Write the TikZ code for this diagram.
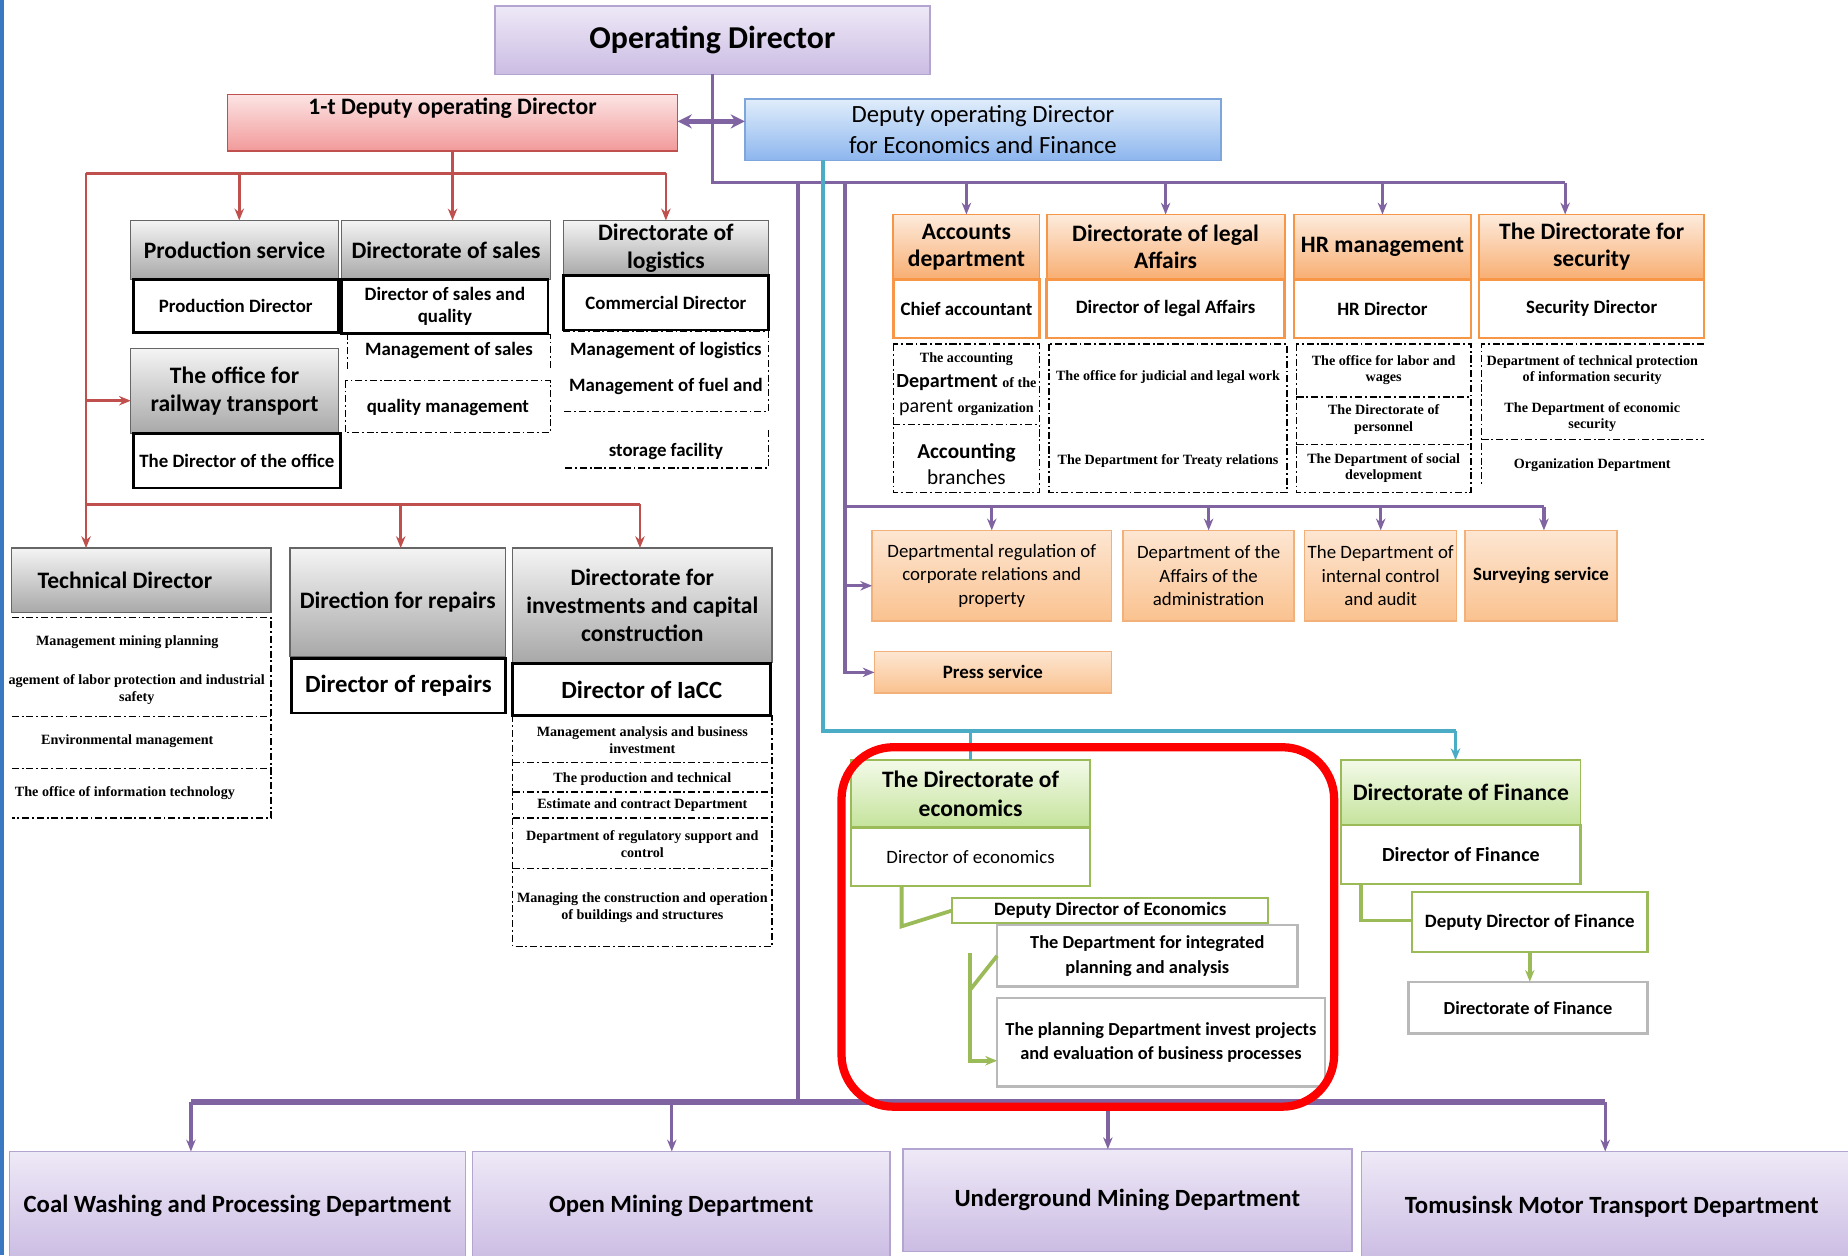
\documentclass[tikz,border=0pt]{standalone}
\usepackage{fontspec}
\setmainfont{Carlito}
\newfontfamily\srf{Liberation Serif}
\usetikzlibrary{arrows.meta}
\definecolor{pur}{HTML}{8064A2}
\definecolor{teal2}{HTML}{4BACC6}
\definecolor{redl}{HTML}{C0504D}
\definecolor{grn}{HTML}{9BBB59}
\definecolor{lavtop}{HTML}{EEE9F7}
\definecolor{lavbot}{HTML}{CBBCE3}
\definecolor{lavbd}{HTML}{B3A5D0}
\definecolor{pinktop}{HTML}{FCE4E4}
\definecolor{pinkbot}{HTML}{F29A9A}
\definecolor{bluetop}{HTML}{E0EDFB}
\definecolor{bluebot}{HTML}{8DB6EE}
\definecolor{bluebd}{HTML}{7FA6DA}
\definecolor{graytop}{HTML}{F4F4F4}
\definecolor{graybot}{HTML}{A8A8A8}
\definecolor{ortop}{HTML}{FDEBDC}
\definecolor{orbot}{HTML}{F8AE72}
\definecolor{orbd}{HTML}{F79646}
\definecolor{or2top}{HTML}{FDE6D2}
\definecolor{or2bot}{HTML}{FAC28F}
\definecolor{or2bd}{HTML}{F2B07A}
\definecolor{grtop}{HTML}{F3FAE8}
\definecolor{grbot}{HTML}{C5E39C}
\definecolor{slide}{HTML}{3A78C2}
\newcommand\setfz[2]{\fontsize{#1}{#2}\selectfont}
\newcommand\bx[7]{\node[#6,minimum width={(#4-#2)*0.5pt},minimum height={(#5-#3)*0.5pt}] (#1) at ({(#2+#4)/2},{(#3+#5)/2}) {#7};}
\begin{document}
\begin{tikzpicture}[x=0.5pt,y=-0.5pt,
 bbase/.style={align=center,inner sep=1pt,outer sep=0pt},
 lav/.style={bbase,draw=lavbd,line width=0.6pt,top color=lavtop,bottom color=lavbot},
 pnk/.style={bbase,draw=redl,line width=0.6pt,top color=pinktop,bottom color=pinkbot},
 blu/.style={bbase,draw=bluebd,line width=0.6pt,top color=bluetop,bottom color=bluebot},
 gryhd/.style={bbase,draw=gray!80!black,line width=0.5pt,top color=graytop,bottom color=graybot,font=\bfseries\setfz{10}{12}},
 wbx/.style={bbase,draw=black,line width=1.2pt,fill=white,font=\bfseries\setfz{8}{9.5}},
 wbig/.style={wbx,font=\bfseries\setfz{10.5}{12}},
 orhd/.style={bbase,draw=orbd,line width=0.8pt,top color=ortop,bottom color=orbot,font=\bfseries\setfz{10}{11.5}},
 orw/.style={bbase,draw=orbd,line width=1pt,fill=white,font=\bfseries\setfz{8}{9.5}},
 or2/.style={bbase,draw=or2bd,line width=0.6pt,top color=or2top,bottom color=or2bot,font=\setfz{8}{10}},
 grhd/.style={bbase,draw=grn,line width=0.8pt,top color=grtop,bottom color=grbot,font=\bfseries\setfz{10}{12}},
 grw/.style={bbase,draw=grn,line width=1pt,fill=white,font=\setfz{8}{9.5}},
 gyw/.style={bbase,draw=gray!55,line width=1pt,fill=white,font=\bfseries\setfz{7.8}{10.5}},
 ltxt/.style={align=center,inner sep=0pt,font=\bfseries\setfz{8}{9.5}},
 stxt/.style={align=center,inner sep=0pt,font=\srf\bfseries\setfz{6}{7}},
 dsh/.style={line width=0.6pt,dash pattern=on 3pt off 1.2pt on 0.8pt off 1.2pt},
 pline/.style={draw=pur,line width=1.4pt},
 parrow/.style={pline,-{Stealth[length=5pt,width=4pt]}},
 rline/.style={draw=redl,line width=1.1pt},
 rarrow/.style={rline,-{Stealth[length=5pt,width=4pt]}},
 tline/.style={draw=teal2,line width=1.6pt},
 tarrow/.style={tline,-{Stealth[length=5pt,width=4pt]}},
 gline/.style={draw=grn,line width=1.6pt},
 garrow/.style={gline,-{Stealth[length=5pt,width=4pt]}}]
\clip (0,0) rectangle (1568,1065);
\fill[white] (0,0) rectangle (1568,1065);
\fill[slide] (0,0) rectangle (3,1065);

% ---------- top
\bx{od}{420}{5}{789}{63}{lav,font=\bfseries\setfz{13.5}{15}}{Operating Director}
\bx{dep1}{193}{80}{575}{128}{pnk}{}
\node[font=\bfseries\setfz{10}{12}] (dep1t) at (384,92) {1-t Deputy operating Director};
\bx{depe}{632}{84}{1036}{136}{blu,font=\setfz{10.5}{13}}{Deputy operating Director\\for Economics and Finance}

% ---------- grey section
\bx{ps}{111}{187}{287}{237}{gryhd}{Production service}
\bx{ds}{290}{187}{467}{237}{gryhd}{Directorate of sales}
\bx{dl}{478}{187}{652}{234}{gryhd}{Directorate of\\logistics}
\bx{pd}{113}{237}{287}{282}{wbx}{Production Director}
\bx{dsq}{290}{237}{465}{283}{wbx}{Director of sales and\\quality}
\bx{cd}{478}{234}{652}{280}{wbx}{Commercial Director}
\bx{ort}{111}{296}{287}{368}{gryhd}{The office for\\railway transport}
\bx{dto}{113}{368}{289}{414}{wbx}{The Director of the office}

\draw[dsh] (295,313) -- (295,284) -- (467,284) -- (467,313);
\node[ltxt] (ms) at (381,297) {Management of sales};
\draw[dsh] (293,323) rectangle (467,367);
\node[ltxt] (qm) at (380,346) {quality management};
\draw[dsh] (478,281) -- (652,281) -- (652,349) -- (478,349);
\node[ltxt] (ml) at (565,297) {Management of logistics};
\node[ltxt] (mf) at (565,328) {Management of fuel and};
\draw[dsh] (652,365) -- (652,397) -- (478,397);
\node[ltxt] (sfc) at (565,383) {storage facility};

\bx{td}{10}{465}{230}{520}{gryhd}{Technical Director\hspace*{14pt}}
\draw[dsh] (10,524) -- (230,524) -- (230,694) -- (10,694);
\draw[dsh] (10,608) -- (230,608);
\draw[dsh] (10,652) -- (230,652);
\node[stxt] (td1) at (108,545) {Management mining planning};
\node[stxt] (td2) at (116,585) {agement of labor protection and industrial\\safety};
\node[stxt] (td3) at (108,629) {Environmental management};
\node[stxt] (td4) at (106,673) {The office of information technology};

\bx{dr}{246}{465}{429}{557}{gryhd}{Direction for repairs}
\bx{dor}{247}{559}{429}{605}{wbig}{Director of repairs}
\bx{dic}{435}{465}{655}{562}{gryhd}{Directorate for\\investments and capital\\construction}
\bx{dia}{435}{563}{654}{607}{wbig}{Director of IaCC}
\draw[dsh] (435,607) rectangle (655,803);
\foreach \yy in {647,672,694,737} \draw[dsh] (435,\yy) -- (655,\yy);
\node[stxt] (i1) at (545,628) {Management analysis and business\\investment};
\node[stxt] (i2) at (545,661) {The production and technical};
\node[stxt] (i3) at (545,683) {Estimate and contract Department};
\node[stxt] (i4) at (545,716) {Department of regulatory support and\\control};
\node[stxt] (i5) at (545,770) {Managing the construction and operation\\of buildings and structures};

% ---------- orange section
\bx{acc}{758}{182}{882}{237}{orhd}{Accounts\\department}
\bx{leg}{888}{182}{1090}{237}{orhd}{Directorate of legal\\Affairs}
\bx{hr}{1098}{182}{1248}{237}{orhd}{HR management}
\bx{sec}{1255}{182}{1446}{237}{orhd}{The Directorate for\\security}
\bx{ca}{758}{237}{882}{287}{orw}{Chief accountant}
\bx{dla}{888}{237}{1090}{287}{orw}{Director of legal Affairs}
\bx{hrd}{1098}{237}{1248}{287}{orw}{HR Director}
\bx{sd}{1255}{237}{1446}{287}{orw}{Security Director}

\draw[dsh] (758,292) rectangle (882,418);
\draw[dsh] (758,360) -- (882,360);
\node[align=center,inner sep=0pt,font=\setfz{8.5}{10.5}] (a1) at (820,326) {{\srf\bfseries\setfz{6}{10.5}The accounting}\\\textbf{Department} {\srf\bfseries\setfz{6}{10.5}of the}\\parent {\srf\bfseries\setfz{6}{10.5}organization}};
\node[align=center,inner sep=0pt,font=\setfz{9}{11}] (a2) at (820,394) {\textbf{Accounting}\\branches};
\draw[dsh] (890,292) rectangle (1092,418);
\node[stxt] (l1) at (991,320) {The office for judicial and legal work};
\node[stxt] (l2) at (991,391) {The Department for Treaty relations};
\draw[dsh] (1100,292) rectangle (1248,418);
\draw[dsh] (1100,337) -- (1248,337);
\draw[dsh] (1100,377) -- (1248,377);
\node[stxt] (h1) at (1174,314) {The office for labor and\\wages};
\node[stxt] (h2) at (1174,356) {The Directorate of\\personnel};
\node[stxt] (h3) at (1174,397) {The Department of social\\development};
\draw[dsh] (1446,292) -- (1257,292) -- (1257,412);
\draw[dsh] (1257,373) -- (1446,373);
\node[stxt] (s1) at (1351,314) {Department of technical protection\\of information security};
\node[stxt] (s2) at (1351,354) {The Department of economic\\security};
\node[stxt] (s3) at (1351,395) {Organization Department};

\bx{drc}{740}{450}{943}{527}{or2}{Departmental regulation of\\corporate relations and\\property}
\bx{daa}{953}{450}{1098}{527}{or2}{Department of the\\Affairs of the\\administration}
\bx{dic2}{1107}{450}{1236}{527}{or2}{The Department of\\internal control\\and audit}
\bx{ss}{1243}{450}{1372}{527}{or2,font=\bfseries\setfz{8}{10}}{Surveying service}
\bx{prs}{742}{553}{943}{588}{or2,font=\bfseries\setfz{8}{10}}{Press service}

% ---------- green section
\bx{eco}{722}{645}{925}{702}{grhd}{The Directorate of\\economics}
\bx{deco}{722}{702}{925}{752}{grw}{Director of economics}
\bx{ddeco}{808}{762}{1076}{783}{grw,font=\bfseries\setfz{8}{9.5}}{Deputy Director of Economics}
\bx{dipa}{846}{785}{1101}{837}{gyw}{The Department for integrated\\planning and analysis}
\bx{pdip}{846}{847}{1124}{922}{gyw}{The planning Department invest projects\\and evaluation of business processes}
\bx{fin}{1138}{645}{1341}{700}{grhd}{Directorate of Finance}
\bx{dfin}{1138}{700}{1341}{750}{grw,font=\bfseries\setfz{8.5}{10}}{Director of Finance}
\bx{ddfin}{1198}{757}{1398}{808}{grw,font=\bfseries\setfz{8}{9.5}}{Deputy Director of Finance}
\bx{dfin2}{1195}{833}{1398}{877}{gyw}{Directorate of Finance}

% ---------- bottom departments
\bx{cw}{8}{977}{395}{1070}{lav,font=\bfseries\setfz{10.5}{12}}{Coal Washing and Processing Department}
\bx{om}{401}{977}{755}{1070}{lav,font=\bfseries\setfz{10.5}{12}}{Open Mining Department}
\bx{um}{766}{975}{1147}{1062}{lav,font=\bfseries\setfz{10.5}{12}}{Underground Mining Department}
\bx{tm}{1155}{977}{1580}{1070}{lav,font=\bfseries\setfz{10.5}{12}}{Tomusinsk Motor Transport Department}

% ---------- purple connectors
\coordinate (pb4) at (1328,155);
\draw[pline] (od.south) |- (pb4);
\draw[parrow] (pb4) -- (pb4 |- sec.north);
\draw[parrow] (acc.north |- pb4) -- (acc.north);
\draw[parrow] (leg.north |- pb4) -- (leg.north);
\draw[parrow] (hr.north |- pb4) -- (hr.north);
\draw[pur,line width=2pt,{Stealth[length=6pt,width=6pt]}-{Stealth[length=6pt,width=6pt]}] (dep1.east |- 0,103) -- (depe.west |- 0,103);
\coordinate (t1) at (677,155);
\coordinate (t2) at (677,935);
\draw[pline] (t1) -- (t2);
\coordinate (b1) at (162,935);
\coordinate (b2) at (570,935);
\coordinate (b3) at (940,935);
\coordinate (b4) at (1362,935);
\draw[draw=pur,line width=2.6pt] (b1) -- (b4);
\draw[parrow] (b1) -- (b1 |- cw.north);
\draw[parrow] (b2) -- (b2 |- om.north);
\draw[parrow] (b3) -- (b3 |- um.north);
\draw[parrow] (b4) -- (b4 |- tm.north);
\coordinate (s1p) at (717,155);
\draw[parrow] (s1p) |- (prs.west);
\coordinate (s3p) at (717,430);
\coordinate (s4p) at (1310,430);
\draw[pline] (s3p) -- (s4p);
\draw[parrow] (drc.north |- s3p) -- (drc.north);
\draw[parrow] (daa.north |- s3p) -- (daa.north);
\draw[parrow] (dic2.north |- s3p) -- (dic2.north);
\draw[parrow] (s4p) -- (s4p |- ss.north);
\coordinate (s5p) at (717,497);
\draw[parrow] (s5p) -- (s5p -| drc.west);

% ---------- teal connectors
\coordinate (tl2) at (698,620);
\coordinate (tl3) at (1235,620);
\draw[tline] (tl2 |- depe.south) -- (tl2) -- (tl3);
\draw[tarrow] (tl3) -- (tl3 |- fin.north);
\draw[tline] (eco.north |- tl2) -- (eco.north);

% ---------- red connectors
\coordinate (r0) at (384,147);
\coordinate (rl) at (73,147);
\coordinate (rr) at (565,147);
\coordinate (rd1) at (203,147);
\draw[rline] (dep1.south) -- (r0);
\draw[rline] (rl) -- (rr);
\draw[rarrow] (rd1) -- (rd1 |- ps.north);
\draw[rarrow] (r0) -- (r0 |- ds.north);
\draw[rarrow] (rr) -- (rr |- dl.north);
\draw[rarrow] (rl) -- (rl |- td.north);
\coordinate (rm) at (73,340);
\draw[rarrow] (rm) -- (rm -| ort.west);
\coordinate (rb) at (73,428);
\coordinate (rb2) at (543,428);
\coordinate (rb1) at (340,428);
\draw[rline] (rb) -- (rb2);
\draw[rarrow] (rb1) -- (rb1 |- dr.north);
\draw[rarrow] (rb2) -- (rb2 |- dic.north);

% ---------- green connectors
\coordinate (g1) at (765,786);
\draw[gline] (g1 |- deco.south) -- (g1) -- (ddeco.west);
\coordinate (g4) at (823,809);
\coordinate (g2) at (823,900);
\coordinate (g3) at (823,840);
\draw[garrow] (g4) -- (g2) -- (g2 -| pdip.west);
\draw[gline] (g3) -- (dipa.west);
\coordinate (g5) at (1155,781);
\draw[gline] (g5 |- dfin.south) -- (g5) -- (g5 -| ddfin.west);
\draw[garrow] (ddfin.south) -- (ddfin.south |- dfin2.north);

% ---------- highlight
\draw[red,line width=3.5pt,rounded corners=22pt] (714,634) rectangle (1132,939);
\end{tikzpicture}
\end{document}
